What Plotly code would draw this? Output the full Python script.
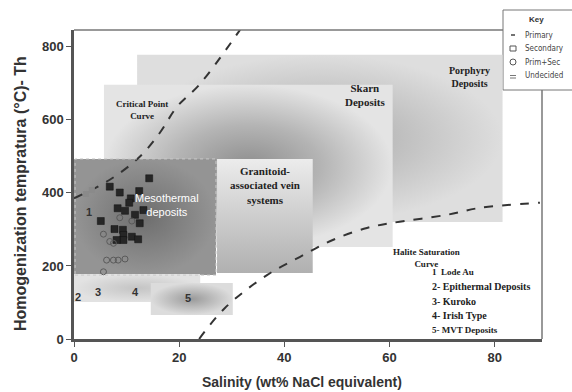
import plotly.graph_objects as go

# ---- data -------------------------------------------------------------
# fluid-inclusion measurements (salinity wt% NaCl eq., homogenization T in °C)
secondary_x = [14.3, 6.8, 8.7, 10.8, 12.4, 10.5, 8.3, 9.7, 11.6, 13.2,
               12.5, 5.1, 7.7, 9.3, 9.4, 11.0, 12.2, 9.4, 8.1]
secondary_y = [440, 417, 401, 385, 405, 373, 358, 351, 340, 353,
               317, 323, 301, 299, 285, 280, 273, 271, 271]

primsec_x = [5.6, 6.8, 7.5, 8.7, 11.0, 6.2, 7.5, 8.4, 9.7, 5.6]
primsec_y = [287, 267, 262, 332, 323, 216, 216, 216, 219, 184]

undecided_x = [2.3, 3.4]
undecided_y = [397, 408]

# phase boundary curves
critical_x = [0.0, 6.8, 12.5, 16.3, 19.6, 24.0, 31.6]
critical_y = [385, 436, 499, 564, 636, 699, 847]

halite_x = [23.8, 28.7, 36.7, 43.0, 49.2, 55.7, 60.6, 70.9, 77.2, 88.6]
halite_y = [0, 85, 175, 225, 271, 304, 318, 340, 359, 373]

# deposit fields: (name, x0, x1, y0, y1)
fields = [
    ("Porphyry", 12.0, 81.5, 320, 778),
    ("Skarn", 5.7, 60.6, 252, 696),
    ("Granitoid", 27.2, 45.4, 181, 493),
    ("Mesothermal", 0.0, 27.0, 175, 493),
    ("Types 2-4", 0.0, 24.0, 101, 178),
    ("MVT", 14.6, 30.2, 66, 153),
]

x_ticks = [0, 20, 40, 60, 80]
y_ticks = [0, 200, 400, 600, 800]

# ---- figure geometry --------------------------------------------------
W, H = 572, 392
ML, MR, MT, MB = 74, 30, 30, 53
PW, PH = W - ML - MR, H - MT - MB


def px(x):
    return (x - ML) / PW


def py(y):
    return (H - MB - y) / PH


fig = go.Figure()

field_style = {
    "Porphyry": dict(type="radial", colorscale=[[0, "#9a9a9a"], [0.4, "#bdbdbd"], [1, "#dedede"]]),
    "Skarn": dict(type="radial", colorscale=[[0, "#8e8e8e"], [0.5, "#b4b4b4"], [1, "#e4e4e4"]]),
    "Granitoid": dict(type="vertical", colorscale=[[0, "#b0b0b0"], [1, "#ececec"]]),
    "Mesothermal": dict(type="radial", colorscale=[[0, "#6e6e6e"], [1, "#949494"]]),
    "Types 2-4": dict(type="radial", colorscale=[[0, "#c4c4c4"], [1, "#e2e2e2"]]),
    "MVT": dict(type="radial", colorscale=[[0, "#9a9a9a"], [1, "#dcdcdc"]]),
}

for name, x0, x1, y0, y1 in fields:
    fig.add_trace(go.Scatter(
        x=[x0, x1, x1, x0, x0], y=[y0, y0, y1, y1, y0],
        mode="lines", fill="toself",
        fillgradient=field_style[name],
        line=dict(width=0), hoverinfo="skip", showlegend=False,
    ))

# dotted outline of the mesothermal field
fig.add_shape(type="rect", x0=0.2, x1=27.0, y0=175, y1=493,
              line=dict(color="#c8c8c8", width=1, dash="dot"), layer="above")

# boundary curves
for cx, cy in [(critical_x, critical_y), (halite_x, halite_y)]:
    fig.add_trace(go.Scatter(
        x=cx, y=cy, mode="lines", line_shape="spline",
        line=dict(color="#333333", width=2, dash="dash"),
        hoverinfo="skip", showlegend=False,
    ))

# inclusion data
fig.add_trace(go.Scatter(
    x=undecided_x, y=undecided_y, mode="markers",
    marker=dict(symbol="square", size=6, color="#8a8a8a"),
    showlegend=False))
fig.add_trace(go.Scatter(
    x=secondary_x, y=secondary_y, mode="markers",
    marker=dict(symbol="square", size=7, color="#262626",
                line=dict(color="#111111", width=0.5)),
    showlegend=False))
fig.add_trace(go.Scatter(
    x=primsec_x, y=primsec_y, mode="markers",
    marker=dict(symbol="circle-open", size=6, color="#5a5a5a",
                line=dict(width=1)),
    showlegend=False))

serif = "Liberation Serif"
sans = "Liberation Sans"
ann = []


def label(text, x, y, size=10, color="#222222", font=serif, bold=True):
    ann.append(dict(x=x, y=y, xref="x", yref="y",
                    text=f"<b>{text}</b>" if bold else text,
                    xanchor="center", yanchor="middle",
                    showarrow=False, font=dict(family=font, size=size, color=color)))


def note(text, x, y, size, font=sans, color="#333333", xanchor="center", **kw):
    ann.append(dict(x=px(x), y=py(y), xref="paper", yref="paper", text=text,
                    xanchor=xanchor, yanchor="middle", showarrow=False,
                    font=dict(family=font, size=size, color=color), **kw))


label("Critical Point<br>Curve", 12.9, 627, size=9)
label("Skarn<br>Deposits", 55.3, 668, size=11)
label("Porphyry<br>Deposits", 75.3, 718, size=10)
label("Granitoid-<br>associated vein<br>systems", 36.3, 420, size=11)
label("Mesothermal<br>deposits", 17.6, 368, size=11, color="white",
      font=sans, bold=False)
label("Halite Saturation<br>Curve", 67.0, 222, size=9)
for t, x, y in [("1", 2.9, 348), ("2", 0.8, 115), ("3", 4.6, 129),
                ("4", 11.6, 129), ("5", 21.7, 112)]:
    label(t, x, y, size=11, color="#333333", font=sans)

# numbered deposit types
types = ["1  Lode Au", "2- Epithermal Deposits", "3- Kuroko",
         "4- Irish Type", "5- MVT Deposits"]
for i, t in enumerate(types):
    note(f"<b>{t}</b>", 430, 272 + 14.6 * i, 9 if i in (0, 4) else 10,
         font=serif, color="#222222", xanchor="left")

# axis titles
note("<b>Salinity (wt% NaCl equivalent)</b>", 302, 382, 14)
note("<b>Homogenization tempratura (°C)- Th</b>", 20, 194, 16, textangle=-90)

# key box
note("<b>Key</b>", 536, 20, 8)
key_items = ["Primary", "Secondary", "Prim+Sec", "Undecided"]
for i, t in enumerate(key_items):
    note(t, 523, 35 + 13.5 * i, 8, font="DejaVu Sans Condensed",
         color="#444444", xanchor="left")

shapes = [
    # frame: top and right
    dict(type="line", xref="paper", yref="paper", x0=0, x1=px(503), y0=1, y1=1,
         line=dict(color="#777777", width=1.5)),
    dict(type="line", xref="paper", yref="paper", x0=1, x1=1, y0=0, y1=py(90),
         line=dict(color="#777777", width=1.5)),
    # key box
    dict(type="rect", xref="paper", yref="paper", x0=px(503), x1=px(574),
         y0=py(90), y1=py(10), line=dict(color="#777777", width=1),
         fillcolor="white", layer="below"),
    # key symbols
    dict(type="line", xref="paper", yref="paper", x0=px(511), x1=px(515),
         y0=py(35), y1=py(35), line=dict(color="#444444", width=1.5)),
    dict(type="rect", xref="paper", yref="paper", x0=px(510), x1=px(516),
         y0=py(51), y1=py(46), line=dict(color="#555555", width=1)),
    dict(type="circle", xref="paper", yref="paper", x0=px(510), x1=px(516),
         y0=py(65), y1=py(59), line=dict(color="#555555", width=1)),
    dict(type="line", xref="paper", yref="paper", x0=px(510), x1=px(516),
         y0=py(75.5), y1=py(75.5), line=dict(color="#777777", width=1)),
    dict(type="line", xref="paper", yref="paper", x0=px(510), x1=px(516),
         y0=py(78), y1=py(78), line=dict(color="#777777", width=1)),
]
fig.layout.shapes = list(fig.layout.shapes) + shapes

axis_common = dict(
    showgrid=False, zeroline=False, showline=True, linecolor="#555555",
    linewidth=2.5, ticks="outside", ticklen=5, tickcolor="#555555",
    tickfont=dict(family=sans, size=13, color="#333333"),
)

fig.update_layout(
    width=W, height=H,
    margin=dict(l=ML, r=MR, t=MT, b=MB),
    paper_bgcolor="white", plot_bgcolor="white",
    annotations=ann,
    showlegend=False,
    xaxis=dict(range=[0, 89], tickvals=x_ticks,
               ticktext=[f"<b>{v}</b>" for v in x_ticks], **axis_common),
    yaxis=dict(range=[0, 846], tickvals=y_ticks,
               ticktext=[f"<b>{v}</b>" for v in y_ticks], **axis_common),
)

fig.write_html("out.html")
